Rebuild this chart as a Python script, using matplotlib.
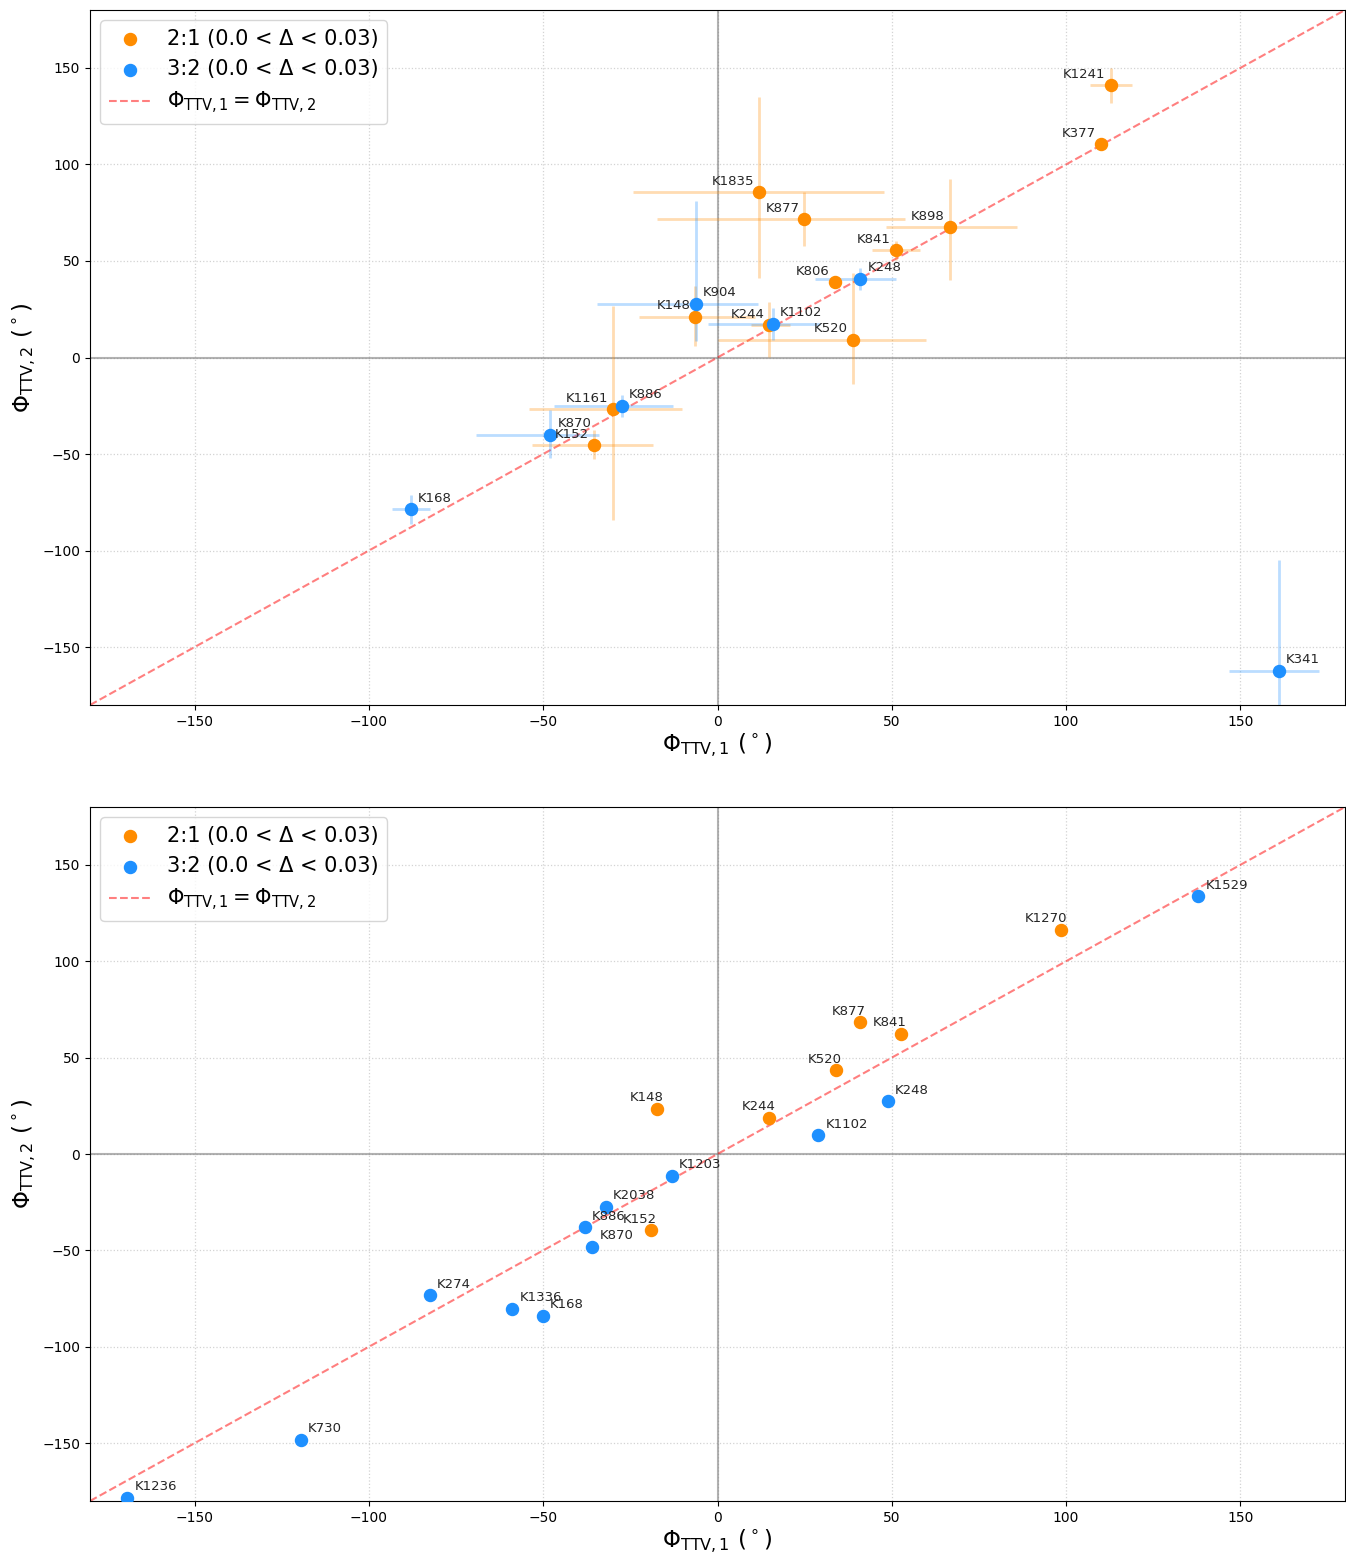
import matplotlib
matplotlib.use("Agg")
import matplotlib.pyplot as plt
import numpy as np

# ---- Upper panel: TTV phases with (asymmetric) uncertainties ----
top_21_names = ["K1241", "K377", "K1835", "K877", "K898", "K841", "K806",
                "K148", "K244", "K520", "K1161", "K152"]
top_21_phi1 = [112.8, 110.0, 11.9, 24.9, 66.6, 51.2, 33.6, -6.4, 14.9, 38.9, -29.9, -35.4]
top_21_phi2 = [140.9, 110.6, 85.7, 71.5, 67.4, 55.6, 38.9, 21.2, 16.6, 9.3, -26.7, -45.3]
top_21_err1_lo = [6.0, 0.0, 36.0, 42.3, 18.3, 6.8, 0.0, 16.0, 5.3, 38.7, 24.2, 17.7]
top_21_err1_hi = [6.0, 0.0, 35.9, 28.9, 19.2, 6.9, 0.0, 17.2, 5.9, 20.8, 19.8, 17.0]
top_21_err2_lo = [9.1, 0.0, 44.5, 14.0, 27.1, 5.0, 0.0, 15.5, 16.1, 22.9, 57.3, 7.3]
top_21_err2_hi = [9.0, 0.0, 49.0, 14.2, 25.0, 4.5, 0.0, 15.6, 11.9, 34.4, 53.3, 7.9]

top_32_names = ["K248", "K904", "K1102", "K886", "K870", "K168", "K341"]
top_32_phi1 = [41.0, -6.2, 15.8, -27.5, -48.0, -88.0, 161.0]
top_32_phi2 = [40.9, 27.8, 17.5, -25.0, -40.1, -78.6, -162.2]
top_32_err1_lo = [13.0, 28.3, 18.4, 19.4, 21.3, 5.3, 14.2]
top_32_err1_hi = [10.2, 17.9, 13.6, 14.7, 14.0, 5.4, 11.5]
top_32_err2_lo = [5.8, 19.5, 8.3, 5.9, 12.0, 7.4, 57.0]
top_32_err2_hi = [5.4, 53.4, 8.1, 5.5, 12.8, 7.5, 57.4]

# ---- Lower panel: TTV phases, point estimates only ----
bot_21_names = ["K1270", "K877", "K841", "K520", "K148", "K244", "K152"]
bot_21_phi1 = [98.5, 40.9, 52.6, 34.0, -17.3, 14.9, -19.0]
bot_21_phi2 = [116.4, 68.4, 62.5, 43.6, 23.5, 18.9, -39.6]

bot_32_names = ["K1529", "K248", "K1102", "K1203", "K2038", "K886", "K870",
                "K274", "K1336", "K168", "K730", "K1236"]
bot_32_phi1 = [137.9, 48.8, 28.8, -13.1, -32.1, -38.1, -35.9, -82.6, -58.9, -50.1, -119.6, -169.3]
bot_32_phi2 = [133.7, 27.4, 9.7, -11.3, -27.4, -37.9, -48.2, -73.4, -80.2, -84.0, -148.1, -178.2]

ticks = [-150, -100, -50, 0, 50, 100, 150]
label_21 = "2:1 (0.0 < Δ < 0.03)"
label_32 = "3:2 (0.0 < Δ < 0.03)"
label_eq = r"$\Phi_{\mathrm{TTV,1}} = \Phi_{\mathrm{TTV,2}}$"

C21 = "#ff8c00"
C32 = "#1e90ff"

fig = plt.figure(figsize=(13.46, 15.55), dpi=100)
ax_top = fig.add_axes([90 / 1346, (1555 - 705) / 1555, 1255 / 1346, 695 / 1555])
ax_bot = fig.add_axes([90 / 1346, (1555 - 1501) / 1555, 1255 / 1346, 694 / 1555])


def decorate(ax):
    ax.axhline(0, color="gray", lw=1.5, alpha=0.6, zorder=1)
    ax.axvline(0, color="gray", lw=1.5, alpha=0.6, zorder=1)
    lim = np.array([-180, 180])
    ax.plot(lim, lim, ls="--", color="red", alpha=0.5, lw=1.5, label=label_eq, zorder=2)
    ax.set_xlim(-180, 180)
    ax.set_ylim(-180, 180)
    ax.set_xticks(ticks)
    ax.set_yticks(ticks)
    ax.tick_params(labelsize=10)
    ax.grid(True, ls=":", color="lightgray", lw=0.9)
    ax.set_axisbelow(True)
    ax.set_xlabel(r"$\Phi_{\mathrm{TTV,1}}$ $(^\circ)$", fontsize=16.5, labelpad=2)
    ax.set_ylabel(r"$\Phi_{\mathrm{TTV,2}}$ $(^\circ)$", fontsize=16.5, labelpad=3)


def annotate(ax, names, xs, ys, dx, ha):
    for n, x, y in zip(names, xs, ys):
        ax.annotate(n, (x, y), xytext=(dx, 3.2), textcoords="offset points",
                    ha=ha, va="bottom", fontsize=9.5, color="#262626", zorder=5)


# upper panel
ax = ax_top
ax.errorbar(top_21_phi1, top_21_phi2,
            xerr=[top_21_err1_lo, top_21_err1_hi], yerr=[top_21_err2_lo, top_21_err2_hi],
            fmt="none", ecolor=C21, alpha=0.3, elinewidth=2, capsize=0, zorder=3)
ax.errorbar(top_32_phi1, top_32_phi2,
            xerr=[top_32_err1_lo, top_32_err1_hi], yerr=[top_32_err2_lo, top_32_err2_hi],
            fmt="none", ecolor=C32, alpha=0.3, elinewidth=2, capsize=0, zorder=3)
ax.scatter(top_21_phi1, top_21_phi2, s=75, color=C21, label=label_21, zorder=4)
ax.scatter(top_32_phi1, top_32_phi2, s=75, color=C32, label=label_32, zorder=4)
annotate(ax, top_21_names, top_21_phi1, top_21_phi2, -3.6, "right")
annotate(ax, top_32_names, top_32_phi1, top_32_phi2, 5.3, "left")
decorate(ax)

# lower panel
ax = ax_bot
ax.scatter(bot_21_phi1, bot_21_phi2, s=75, color=C21, label=label_21, zorder=4)
ax.scatter(bot_32_phi1, bot_32_phi2, s=75, color=C32, label=label_32, zorder=4)
annotate(ax, bot_21_names, bot_21_phi1, bot_21_phi2, 4.3, "right")
annotate(ax, bot_32_names, bot_32_phi1, bot_32_phi2, 5.3, "left")
decorate(ax)

for ax in (ax_top, ax_bot):
    h, l = ax.get_legend_handles_labels()
    order = [l.index(label_21), l.index(label_32), l.index(label_eq)]
    ax.legend([h[i] for i in order], [l[i] for i in order], loc="upper left", fontsize=15)

fig.savefig("out.png", dpi=100)
